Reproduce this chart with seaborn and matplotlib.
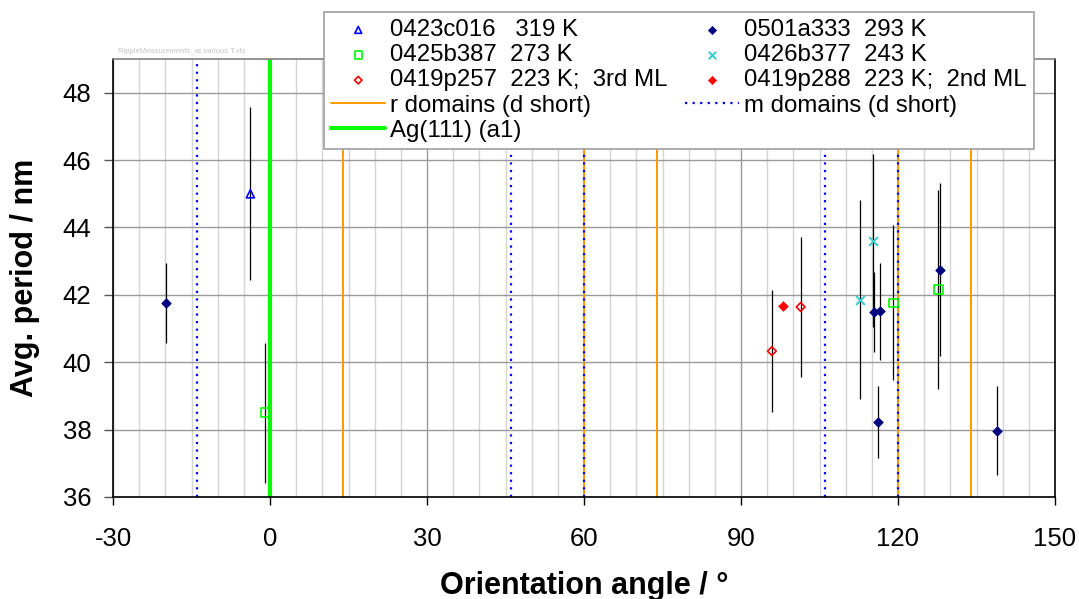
import numpy as np
import pandas as pd
import matplotlib
matplotlib.use("Agg")
import matplotlib.pyplot as plt
import seaborn as sns
from matplotlib.ticker import MultipleLocator

# --- measurement series: orientation angle (deg), avg. period (nm), error (nm)
s319_label = "0423c016   319 K"
s319_x = [-3.75]
s319_y = [45.0]
s319_err = [2.57]

s273_label = "0425b387  273 K"
s273_x = [-0.9, 119.1, 127.7]
s273_y = [38.5, 41.76, 42.17]
s273_err = [2.08, 2.3, 2.95]

s223a_label = "0419p257  223 K;  3rd ML"
s223a_x = [95.9, 101.4]
s223a_y = [40.33, 41.64]
s223a_err = [1.81, 2.09]

s293_label = "0501a333  293 K"
s293_x = [-19.8, 115.4, 116.5, 116.1, 128.0, 139.0]
s293_y = [41.76, 41.49, 41.51, 38.23, 42.75, 37.97]
s293_err = [1.2, 1.19, 1.43, 1.07, 2.56, 1.32]

s243_label = "0426b377  243 K"
s243_x = [115.2, 112.8]
s243_y = [43.61, 41.86]
s243_err = [2.57, 2.96]

s223b_label = "0419p288  223 K;  2nd ML"
s223b_x = [98.1]
s223b_y = [41.68]

# reference directions (deg)
r_domains = [14, 60, 74, 120, 134]
m_domains = [-14, 46, 60, 106, 120]
ag111 = [0]

x_ticks = [-30, 0, 30, 60, 90, 120, 150]
y_ticks = [36, 38, 40, 42, 44, 46, 48]

sns.set_theme(style="white")
plt.rcParams["font.family"] = ["Liberation Sans", "DejaVu Sans"]
plt.rcParams.update({"text.color": "black", "axes.labelcolor": "black",
                     "xtick.color": "black", "ytick.color": "black"})

fig = plt.figure(figsize=(10.79, 5.99), dpi=100)
ax = fig.add_axes([113 / 1079, 1 - 497 / 599, 942 / 1079, 438 / 599])

ax.set_xlim(-30, 150)
ax.set_ylim(36, 49)

# grid
ax.xaxis.set_major_locator(MultipleLocator(30))
ax.xaxis.set_minor_locator(MultipleLocator(5))
ax.set_yticks(y_ticks)
ax.set_xticks(x_ticks)
ax.grid(which="minor", axis="x", color="#d4d4d4", lw=1.0, zorder=0)
ax.grid(which="major", axis="x", color="#9a9a9a", lw=1.0, zorder=0)
ax.grid(which="major", axis="y", color="#9a9a9a", lw=1.0, zorder=0)
ax.set_axisbelow(True)

handles = {}

# reference lines
for i, v in enumerate(r_domains):
    ln = ax.axvline(v, color="#FF9900", lw=1.4, zorder=2)
    if i == 0:
        handles["r"] = ln
        ln.set_label("r domains (d short)")
for i, v in enumerate(m_domains):
    ln = ax.axvline(v, color="#0000FF", lw=1.6, ls=(0, (1.0, 2.4)), zorder=2.2)
    if i == 0:
        handles["m"] = ln
        ln.set_label("m domains (d short)")
for v in ag111:
    ln = ax.axvline(v, color="#00FF00", lw=3.0, zorder=2.5, label="Ag(111) (a1)")
    handles["ag"] = ln

# error bars
for xs, ys, es in [(s319_x, s319_y, s319_err), (s273_x, s273_y, s273_err),
                   (s223a_x, s223a_y, s223a_err), (s293_x, s293_y, s293_err),
                   (s243_x, s243_y, s243_err)]:
    ax.errorbar(xs, ys, yerr=es, fmt="none", ecolor="black", elinewidth=0.9,
                capsize=0, zorder=3)

def points(xs, ys, label, marker, color, size, open_marker, key):
    df = pd.DataFrame({"angle": xs, "period": ys})
    kw = dict(marker=marker, s=size, zorder=4, label=label, legend=False)
    if open_marker:
        kw.update(color=color, facecolor="none", edgecolor=color, linewidth=1.2)
    elif marker == "x":
        kw.update(color=color, linewidth=1.4)
    else:
        kw.update(color=color, edgecolor=color, linewidth=0.5)
    sns.scatterplot(data=df, x="angle", y="period", ax=ax, **kw)
    handles[key] = ax.collections[-1]

points(s319_x, s319_y, s319_label, "^", "#0000FF", 34, True, "s319")
points(s273_x, s273_y, s273_label, "s", "#00FF00", 40, True, "s273")
points(s223a_x, s223a_y, s223a_label, "D", "#FF0000", 20, True, "s223a")
points(s293_x, s293_y, s293_label, "D", "#000080", 24, False, "s293")
points(s243_x, s243_y, s243_label, "x", "#33CCCC", 40, False, "s243")
points(s223b_x, s223b_y, s223b_label, "D", "#FF0000", 24, False, "s223b")

# spines and ticks
for side in ["left", "bottom", "right"]:
    ax.spines[side].set_color("black")
    ax.spines[side].set_linewidth(1.2)
ax.spines["top"].set_color("#808080")
ax.spines["top"].set_linewidth(1.2)

ax.tick_params(axis="x", which="major", direction="out", length=5.5, width=1,
               color="black", pad=16, labelsize=18.5, bottom=True)
ax.tick_params(axis="x", which="minor", length=0)
ax.tick_params(axis="y", which="major", direction="out", length=6.5, width=1,
               color="#555555", pad=9, labelsize=18.5, left=True)
ax.set_xticklabels([str(t) for t in x_ticks])
ax.set_yticklabels([str(t) for t in y_ticks])

ax.set_xlabel("Orientation angle / \u00b0", fontsize=22, fontweight="bold")
ax.set_ylabel("Avg. period / nm", fontsize=22, fontweight="bold")
ax.xaxis.set_label_coords(0.5, -0.168)
ax.yaxis.set_label_coords(-0.077, 0.5)

# legend
order = ["s319", "s273", "s223a", "r", "ag", "s293", "s243", "s223b", "m"]
leg = fig.legend([handles[k] for k in order],
                 [handles[k].get_label() for k in order],
                 ncol=2, loc="upper left",
                 bbox_to_anchor=(324 / 1079, 1 - 12 / 599),
                 fontsize=17.3, frameon=True, fancybox=False,
                 edgecolor="#a0a0a0", framealpha=1.0,
                 handlelength=2.25, handletextpad=0.2, columnspacing=0.72,
                 labelspacing=0.13, borderpad=0.3, borderaxespad=0,
                 markerscale=0.85)
leg.get_frame().set_linewidth(1.2)

fig.text(118 / 1079, 1 - 51.5 / 599, "RippleMeasurements_at various T.xls",
         fontsize=5.5, color="#c4c4c4", va="center", ha="left")

fig.savefig("out.png", dpi=100)
